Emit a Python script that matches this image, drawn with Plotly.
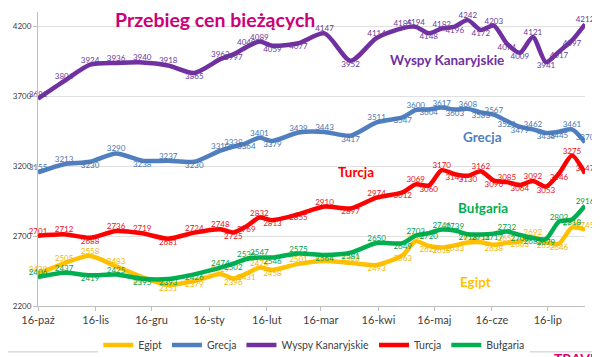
import plotly.graph_objects as go

# ---------------- data ----------------
dates = ["2015-10-16", "2015-10-30", "2015-11-13", "2015-11-27", "2015-12-11", "2015-12-25",
         "2016-01-08", "2016-01-22", "2016-01-29", "2016-02-05", "2016-02-12", "2016-02-19",
         "2016-03-04", "2016-03-18", "2016-04-01", "2016-04-15", "2016-04-29", "2016-05-06",
         "2016-05-13", "2016-05-20", "2016-05-27", "2016-06-03", "2016-06-10", "2016-06-17",
         "2016-06-24", "2016-07-01", "2016-07-08", "2016-07-15", "2016-07-22", "2016-07-29",
         "2016-08-05"]

egipt = [2429, 2505, 2558, 2483, 2407, 2351, 2379, 2429, 2396, 2431, 2474, 2458, 2501, 2522, 2508, 2493,
         2563, 2663, 2629, 2618, 2633, 2654, 2655, 2638, 2651, 2663, 2692, 2655, 2646, 2760, 2745]
grecja = [3155, 3213, 3230, 3290, 3238, 3237, 3230, 3310, 3338, 3364, 3401, 3379, 3439, 3443, 3417, 3511,
          3547, 3600, 3604, 3617, 3603, 3608, 3583, 3567, 3521, 3479, 3462, 3436, 3445, 3461, 3370]
wyspy = [3681, 3806, 3924, 3936, 3940, 3918, 3865, 3963, 3997, 4049, 4089, 4059, 4077, 4147, 3952, 4114,
         4185, 4194, 4148, 4182, 4196, 4242, 4172, 4203, 4074, 4009, 4121, 3941, 4017, 4097, 4212]
turcja = [2701, 2712, 2688, 2736, 2719, 2681, 2724, 2748, 2725, 2769, 2832, 2813, 2855, 2910, 2897, 2974,
          3012, 3069, 3060, 3170, 3141, 3130, 3162, 3096, 3085, 3064, 3092, 3053, 3146, 3275, 3147]
bulgaria = [2406, 2437, 2419, 2425, 2395, 2393, 2426, 2474, 2502, 2536, 2547, 2546, 2575, 2564, 2581, 2650,
            2649, 2703, 2720, 2746, 2739, 2713, 2711, 2717, 2732, 2708, 2685, 2679, 2803, 2818, 2916]

series_names = ["Egipt", "Grecja", "Wyspy Kanaryjskie", "Turcja", "Bułgaria"]
series_values = [egipt, grecja, wyspy, turcja, bulgaria]
series_colors = ["#FFC000", "#4F7FBF", "#7030A0", "#FF0000", "#00B050"]
label_colors = ["#F2B800", "#4A76B0", "#6A3A9A", "#E8101A", "#00A04A"]

tick_dates = ["2015-10-16", "2015-11-16", "2015-12-16", "2016-01-16", "2016-02-16",
              "2016-03-16", "2016-04-16", "2016-05-16", "2016-06-16", "2016-07-16"]
tick_labels = ["16-paź", "16-lis", "16-gru", "16-sty", "16-lut",
               "16-mar", "16-kwi", "16-maj", "16-cze", "16-lip"]
y_ticks = [2200, 2700, 3200, 3700, 4200]

caption_names = ["Wyspy Kanaryjskie", "Grecja", "Turcja", "Bułgaria", "Egipt"]
caption_x = ["2016-05-23", "2016-06-11", "2016-04-04", "2016-06-11", "2016-06-07"]
caption_y = [3957, 3407, 3157, 2900, 2371]
caption_colors = ["#7030A0", "#4F7FBF", "#FF0000", "#00B050", "#FFC000"]


def label_positions(vals):
    pos = []
    n = len(vals)
    for i, v in enumerate(vals):
        if i == 0 or i == n - 1:
            pos.append("top center")
            continue
        avg = (vals[i - 1] + vals[i + 1]) / 2
        pos.append("top center" if v >= avg else "bottom center")
    return pos


fig = go.Figure()
for name, vals, col, lcol in zip(series_names, series_values, series_colors, label_colors):
    fig.add_trace(go.Scatter(
        x=dates, y=vals, name=name, mode="lines+text",
        line=dict(color=col, width=4.5, shape="spline", smoothing=0.7),
        text=[str(v) for v in vals], textposition=label_positions(vals),
        textfont=dict(size=8, color=lcol, family="Lato"),
        cliponaxis=False,
    ))

for nm, cx, cy, cc in zip(caption_names, caption_x, caption_y, caption_colors):
    fig.add_annotation(x=cx, y=cy, text="<b>%s</b>" % nm, showarrow=False,
                       font=dict(size=13.5, color=cc, family="Lato"))

fig.add_annotation(xref="paper", yref="paper", x=0.324, y=0.975, xanchor="center", yanchor="middle",
                   text="<b>Przebieg cen bieżących</b>", showarrow=False,
                   font=dict(size=19.5, color="#CC0077", family="Lato"))

fig.add_annotation(xref="paper", yref="paper", x=0.985, y=-0.143, xanchor="center", yanchor="top",
                   text="<b>eTRAVEL</b>", showarrow=False,
                   font=dict(size=14, color="#E0007A", family="Lato"))

# chart-area frame
fig.add_shape(type="rect", xref="paper", yref="paper", x0=-0.062, x1=1.022, y0=-0.156, y1=1.027,
              line=dict(color="#c8c8c8", width=1), layer="below")

fig.update_layout(
    width=600, height=357,
    margin=dict(l=30, r=23, t=4, b=59, autoexpand=False),
    paper_bgcolor="white", plot_bgcolor="white",
    font=dict(family="Lato", color="#404040"),
    showlegend=True,
    legend=dict(orientation="h", x=0.505, xanchor="center", y=-0.083, yanchor="top",
                font=dict(size=10.5, color="#404040"), itemwidth=30, tracegroupgap=0),
    xaxis=dict(type="date", range=["2015-10-16", "2016-08-05"],
               tickvals=tick_dates, ticktext=tick_labels,
               tickfont=dict(size=11, color="#404040"),
               showgrid=False, showline=True, linecolor="#bfbfbf", linewidth=1,
               ticks="outside", ticklen=4, tickcolor="#bfbfbf", zeroline=False),
    yaxis=dict(range=[2200, 4300], tickvals=y_ticks,
               tickfont=dict(size=8, color="#404040"),
               showgrid=True, gridcolor="#e0e0e0", gridwidth=1,
               showline=True, linecolor="#bfbfbf", linewidth=1,
               ticks="outside", ticklen=4, tickcolor="#bfbfbf", zeroline=False),
)

fig.write_html("out.html")
